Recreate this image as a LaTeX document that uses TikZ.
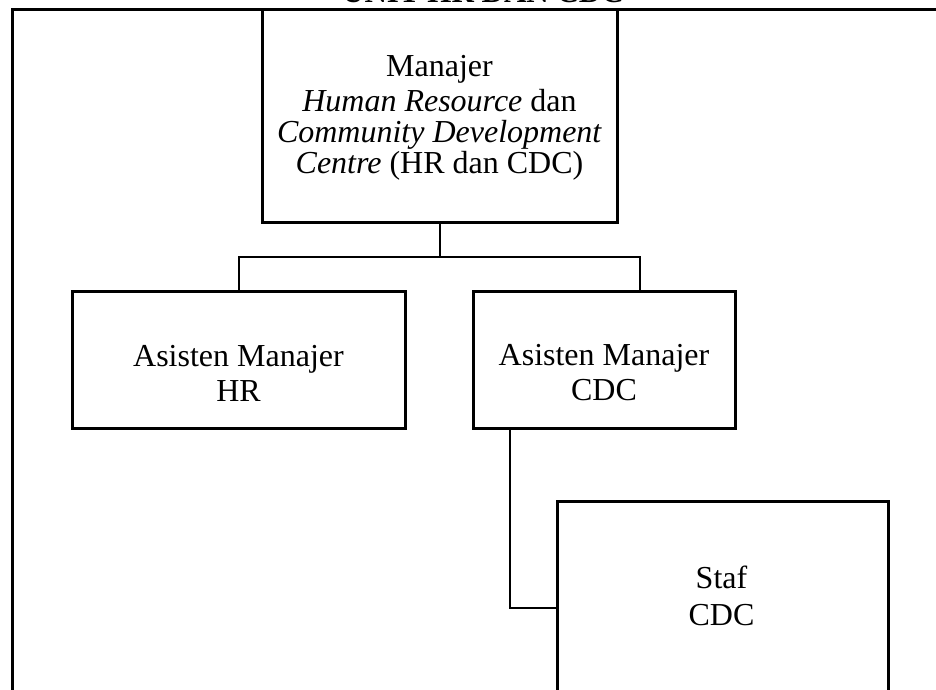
\documentclass[tikz,border=0pt]{standalone}
\usepackage{fontspec}
\setmainfont{Liberation Serif}
\begin{document}
\begin{tikzpicture}[x=1pt,y=-1pt,
  box/.style={draw,line width=3pt,inner sep=0pt,align=center},
  txt/.style={align=center,font=\fontsize{32}{35}\selectfont},
  conn/.style={line width=2pt},
  frame/.style={line width=3pt}]
\useasboundingbox (0,0) rectangle (936,689);
% title (clipped at top)
\node[anchor=base,font=\bfseries\fontsize{31}{36}\selectfont] (title) at (483,2) {UNIT HR DAN CDC};
% frame
\coordinate (ftr) at (940,9);
\coordinate (ftl) at (12,9);
\coordinate (fbl) at (12,695);
\draw[frame] (ftr) -- (ftl) -- (fbl);
% boxes
\node[box,minimum width=355pt,minimum height=213pt] (man) at (439.5,115.5) {};
\node[box,minimum width=333pt,minimum height=137pt] (hr) at (238.5,359.5) {};
\node[box,minimum width=262pt,minimum height=137pt] (cdc) at (604,359.5) {};
\node[box,minimum width=331pt,minimum height=220pt,anchor=north west] (staf) at (556,500) {};
% texts
\node[txt,font=\fontsize{32}{31}\selectfont] (mant) at (439.5,117.5)
  {Manajer\\[4pt] \textit{Human Resource} dan\\ \textit{Community Development}\\ \textit{Centre} (HR dan CDC)};
\node[txt] (hrt) at (238.5,373) {Asisten Manajer\\HR};
\node[txt] (cdct) at (604,373) {Asisten Manajer\\CDC};
\node[txt,font=\fontsize{32}{37}\selectfont] (staft) at (721.5,596) {Staf\\CDC};
% connectors
\coordinate (j1) at (440,257);
\coordinate (jl) at (239,257);
\coordinate (jr) at (640,257);
\draw[conn] (man.south -| j1) -- (j1);
\draw[conn] (hr.north -| jl) -- (jl) -- (jr) -- (cdc.north -| jr);
\coordinate (c1) at (510,608);
\draw[conn] (cdc.south -| c1) -- (c1) -- (c1 -| staf.west);
\end{tikzpicture}
\end{document}
